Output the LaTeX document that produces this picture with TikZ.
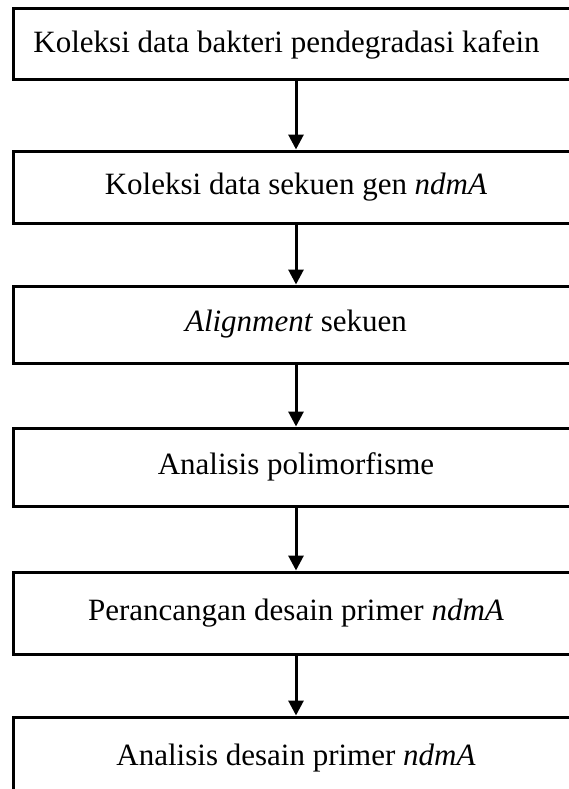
\documentclass[tikz,border=0pt]{standalone}
\usepackage{fontspec}
\setmainfont{Liberation Serif}
\usetikzlibrary{arrows.meta}
\tikzset{
	stagebox/.style={draw, line width=3pt, minimum width=566pt, inner sep=0pt,
		font=\fontsize{31}{36}\selectfont},
	flowarrow/.style={line width=3pt, -{Triangle[length=15pt, width=15pt]}}
}

\begin{document}
\begin{tikzpicture}[x=1pt, y=1pt]
	\clip (0, 0) rectangle (569, -789);
	\node[stagebox, minimum height=71pt] (koleksi) at (296, -44.5) {Koleksi data bakteri pendegradasi kafein\hspace*{19pt}};
	\node[stagebox, minimum height=72pt] (sekuen) at (296, -187) {Koleksi data sekuen gen \textit{ndmA}};
	\node[stagebox, minimum height=77pt] (align) at (296, -324.5) {\textit{Alignment} sekuen};
	\node[stagebox, minimum height=78pt] (polimorf) at (296, -467) {Analisis polimorfisme};
	\node[stagebox, minimum height=82pt] (rancang) at (296, -613) {Perancangan desain primer \textit{ndmA}};
	\node[stagebox, minimum height=82pt] (analisis) at (296, -758) {Analisis desain primer \textit{ndmA}};
	\draw[flowarrow] (koleksi) -- (sekuen);
	\draw[flowarrow] (sekuen) -- (align);
	\draw[flowarrow] (align) -- (polimorf);
	\draw[flowarrow] (polimorf) -- (rancang);
	\draw[flowarrow] (rancang) -- (analisis);
\end{tikzpicture}
\end{document}
